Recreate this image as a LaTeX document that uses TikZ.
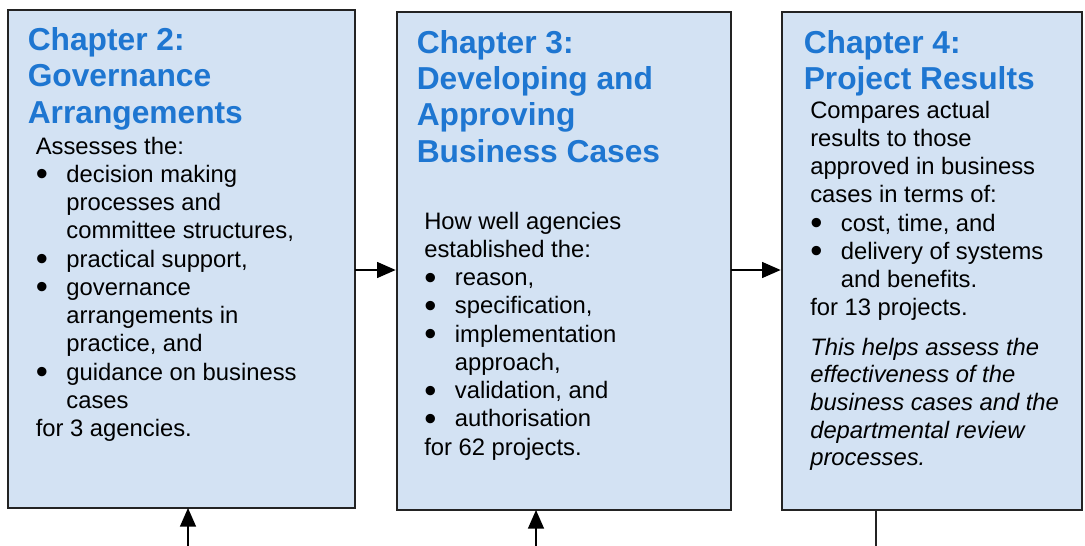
\documentclass[tikz,border=0pt]{standalone}
\usepackage{fontspec}
\usepackage{graphicx}
\setmainfont{Liberation Sans}
\usetikzlibrary{arrows.meta}

\definecolor{boxfill}{RGB}{211,226,243}
\definecolor{titleblue}{RGB}{30,118,209}
\definecolor{edge}{RGB}{35,35,35}

% a somewhat heavier bullet dot, kept centred on the x-height
\newcommand\bigdot{\smash{\raisebox{-2.6pt}{\scalebox{1.45}{\textbullet}}}}
% one line of a text block: plain, bulleted, or continuing a bullet
\newcommand\pln[1]{\hbox{#1}}
\newcommand\itm[1]{\hbox{\makebox[23pt][l]{\bigdot}#1}}
\newcommand\cnt[1]{\hbox{\hspace{23pt}#1}}

\tikzset{
  chapbox/.style={draw=edge, line width=1.1pt, fill=boxfill, rectangle,
    anchor=north west, inner sep=0pt, outer sep=0pt, minimum height=373.5pt},
  heading/.style={anchor=base west, inner sep=0pt, text=titleblue,
    font=\fontsize{23.8}{27.3}\selectfont\bfseries},
  bodytext/.style={anchor=base west, inner sep=0pt, text=black,
    font=\fontsize{17.85}{21.2}\selectfont},
  flow/.style={draw=black, line width=1.1pt,
    -{Triangle[length=14pt,width=12pt]}, shorten >=1pt},
  plainline/.style={draw=edge, line width=1.1pt},
}

\begin{document}
\begin{tikzpicture}[x=0.75pt, y=-0.75pt]
\useasboundingbox (0,0) rectangle (1085,546);

% chapter boxes
\node[chapbox, minimum width=260.25pt] (b1) at (8,10) {};
\node[chapbox, minimum width=250.5pt] (b2) at (397,12) {};
\node[chapbox, minimum width=225pt] (b3) at (782,12) {};

% Chapter 2
\node[heading] (t1) at (27.5,50.5) {\vtop{\pln{Chapter 2:}\pln{Governance}\pln{Arrangements}}};
\node[bodytext] (c1) at (35.5,154) {\vtop{%
  \pln{Assesses the:}
  \itm{decision making}
  \cnt{processes and}
  \cnt{committee structures,}
  \itm{practical support,}
  \itm{governance}
  \cnt{arrangements in}
  \cnt{practice, and}
  \itm{guidance on business}
  \cnt{cases}
  \pln{for 3 agencies.}}};

% Chapter 3
\node[heading] (t2) at (416.5,53) {\vtop{\pln{Chapter 3:}\pln{Developing and}\pln{Approving}\pln{Business Cases}}};
\node[bodytext] (c2) at (424,229) {\vtop{%
  \pln{How well agencies}
  \pln{established the:}
  \itm{reason,}
  \itm{specification,}
  \itm{implementation}
  \cnt{approach,}
  \itm{validation, and}
  \itm{authorisation}
  \pln{for 62 projects.}}};

% Chapter 4
\node[heading] (t3) at (803.5,53) {\vtop{\pln{Chapter 4:}\pln{Project Results}}};
\node[bodytext] (c3) at (810,118) {\vtop{%
  \pln{Compares actual}
  \pln{results to those}
  \pln{approved in business}
  \pln{cases in terms of:}
  \itm{cost, time, and}
  \itm{delivery of systems}
  \cnt{and benefits.}
  \pln{for 13 projects.}}};
\node[bodytext, font=\fontsize{17.85}{20.8}\selectfont\itshape] (n3) at (810,355) {\vtop{%
  \pln{This helps assess the}
  \pln{effectiveness of the}
  \pln{business cases and the}
  \pln{departmental review}
  \pln{processes.}}};

% connectors between chapters
\draw[flow] (b1.east |- 0,270) -- (b2.west |- 0,270);
\draw[flow] (b2.east |- 0,270) -- (b3.west |- 0,270);

% inputs from below and the output of chapter 4
\coordinate (s1) at (188,546);
\coordinate (s2) at (536,546);
\coordinate (s3) at (876,546);
\draw[flow, shorten >=0pt] (s1) -- (s1 |- b1.south);
\draw[flow, shorten >=0pt] (s2) -- (s2 |- b2.south);
\draw[plainline] (s3 |- b3.south) -- (s3);
\end{tikzpicture}
\end{document}
